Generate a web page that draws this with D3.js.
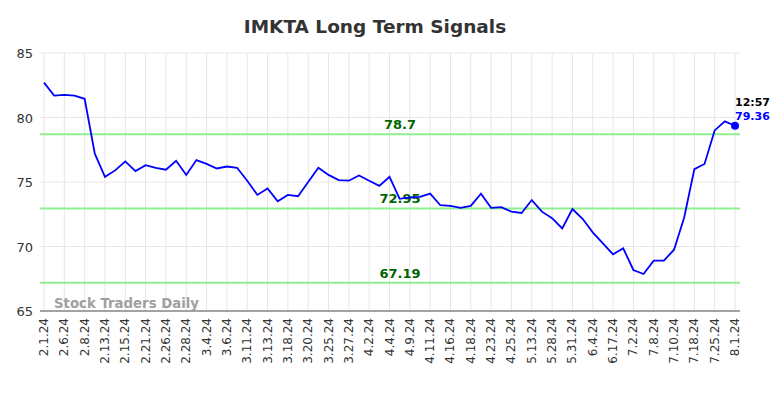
<!DOCTYPE html>
<html><head><meta charset="utf-8">
<script src="https://cdn.jsdelivr.net/npm/d3@7"></script>
<style>body{margin:0;background:#fff}svg{display:block}</style>
</head><body><svg id="c" width="784" height="398"></svg>
<script>
const tickLabels = ["2.1.24","2.6.24","2.8.24","2.13.24","2.15.24","2.21.24","2.26.24","2.28.24","3.4.24","3.6.24","3.11.24","3.13.24","3.18.24","3.20.24","3.25.24","3.27.24","4.2.24","4.4.24","4.9.24","4.11.24","4.16.24","4.18.24","4.23.24","4.25.24","5.13.24","5.28.24","5.31.24","6.4.24","6.17.24","7.2.24","7.8.24","7.10.24","7.18.24","7.25.24","8.1.24"];
const values = [82.7,81.7,81.75,81.7,81.45,77.2,75.4,75.9,76.6,75.85,76.3,76.1,75.95,76.65,75.55,76.7,76.4,76.05,76.2,76.1,75.1,74.0,74.5,73.5,74.0,73.9,75.0,76.1,75.55,75.15,75.1,75.5,75.1,74.7,75.4,73.7,73.8,73.85,74.1,73.2,73.15,73.0,73.15,74.1,73.0,73.05,72.7,72.6,73.6,72.7,72.2,71.4,72.9,72.15,71.1,70.25,69.4,69.86,68.18,67.87,68.9,68.9,69.75,72.25,76.0,76.4,79.0,79.7,79.36];
const signals = [78.7, 72.95, 67.19];
const yTicks = [65,70,75,80,85];
const lastTime = "12:57";
const title = "IMKTA Long Term Signals";

const svg = d3.select("#c");
const pL = 40, pR = 740, pT = 53, pB = 311;
const x = d3.scaleLinear().domain([0, values.length-1]).range([44, 735]);
const y = d3.scaleLinear().domain([65,85]).range([pB, pT]);

const g = svg.append("g");
g.selectAll(".hg").data(yTicks).join("line")
  .attr("x1", pL).attr("x2", pR).attr("y1", d=>y(d)).attr("y2", d=>y(d))
  .attr("stroke", "#e6e6e6").attr("stroke-width", 1);
g.selectAll(".vg").data(tickLabels).join("line")
  .attr("x1", (d,i)=>x(i*2)).attr("x2", (d,i)=>x(i*2)).attr("y1", pT).attr("y2", pB)
  .attr("stroke", "#e6e6e6").attr("stroke-width", 1);

svg.selectAll(".yl").data(yTicks).join("text")
  .attr("x", 33).attr("y", d=>y(d)+5).attr("text-anchor","end")
  .attr("font-family","DejaVu Sans").attr("font-size",13).attr("fill","#333")
  .text(d=>d);

svg.selectAll(".xl").data(tickLabels).join("text")
  .attr("transform", (d,i)=>`translate(${x(i*2)+4},318) rotate(-90)`)
  .attr("text-anchor","end")
  .attr("font-family","DejaVu Sans").attr("font-size",12).attr("fill","#333")
  .text(d=>d);

svg.append("line").attr("x1",pL).attr("x2",pR).attr("y1",pB).attr("y2",pB)
  .attr("stroke","#555").attr("stroke-width",1.2);

svg.append("text").attr("x",54).attr("y",308)
  .attr("font-family","DejaVu Sans").attr("font-size",13.3).attr("font-weight","bold")
  .attr("fill","#a0a0a0").text("Stock Traders Daily");

svg.selectAll(".sl").data(signals).join("line")
  .attr("x1",pL).attr("x2",pR).attr("y1",d=>y(d)).attr("y2",d=>y(d))
  .attr("stroke","#90ee90").attr("stroke-width",2);
svg.selectAll(".st").data(signals).join("text")
  .attr("x",400).attr("y",d=>y(d)-5).attr("text-anchor","middle")
  .attr("font-family","DejaVu Sans").attr("font-size",13).attr("font-weight","bold")
  .attr("fill","#006400").text(d=>d);

svg.append("path").datum(values)
  .attr("d", d3.line().x((d,i)=>x(i)).y(d=>y(d)))
  .attr("fill","none").attr("stroke","#0000ff").attr("stroke-width",1.8);

const li = values.length-1;
svg.append("circle").attr("cx",x(li)).attr("cy",y(values[li])).attr("r",4).attr("fill","#0000ff");
svg.append("text").attr("x",x(li)).attr("y",y(values[li])-20)
  .attr("font-family","DejaVu Sans").attr("font-size",11).attr("font-weight","bold")
  .attr("fill","#000").text(lastTime);
svg.append("text").attr("x",x(li)).attr("y",y(values[li])-6)
  .attr("font-family","DejaVu Sans").attr("font-size",11).attr("font-weight","bold")
  .attr("fill","#0000ff").text(values[li]);

svg.append("text").attr("x",375).attr("y",33).attr("text-anchor","middle")
  .attr("font-family","DejaVu Sans").attr("font-size",18.5).attr("font-weight","bold")
  .attr("fill","#333").text(title);
</script></body></html>
